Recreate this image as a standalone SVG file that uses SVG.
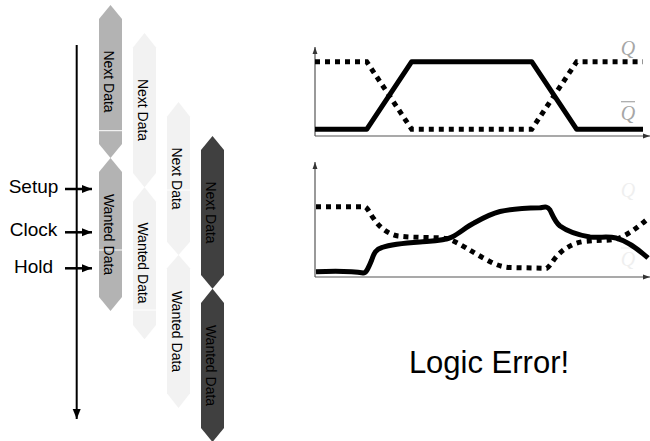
<svg xmlns="http://www.w3.org/2000/svg" width="650" height="441" viewBox="0 0 650 441">
  <defs>
    <style>
      .lbl { font-family: "Liberation Sans", Arial, sans-serif; font-size: 19px; fill: #000; text-anchor: middle; }
      .dat { font-family: "Liberation Sans", Arial, sans-serif; font-size: 14px; fill: #000; text-anchor: middle; }
      .c1 { fill: #b3b3b3; }
      .c2 { fill: #f2f2f2; }
      .c4 { fill: #404040; }
      .seam { stroke: #ffffff; stroke-width: 1; }
      .axis { stroke: #555; stroke-width: 1.2; fill: none; }
      .sig { stroke: #000; stroke-width: 5; fill: none; stroke-linejoin: round; }
      .dot { stroke: #000; stroke-width: 5; fill: none; stroke-dasharray: 5 5; }
      .q { font-family: "Liberation Serif", "Times New Roman", serif; font-style: italic; font-size: 20px; text-anchor: middle; }
      .title { font-family: "Liberation Sans", Arial, sans-serif; font-size: 31px; fill: #000; text-anchor: middle; }
    </style>
    <marker id="ah" viewBox="0 0 10 10" refX="10" refY="5" markerWidth="10" markerHeight="10" markerUnits="userSpaceOnUse" orient="auto">
      <path d="M0,1 L10,5 L0,9 Z" fill="#000"/>
    </marker>
    <marker id="ax" viewBox="0 0 10 10" refX="10" refY="5" markerWidth="7" markerHeight="7" markerUnits="userSpaceOnUse" orient="auto">
      <path d="M0,1.5 L10,5 L0,8.5 Z" fill="#333"/>
    </marker>
  </defs>

  <!-- time axis and sampling labels -->
  <g id="timeline">
    <line x1="76.7" y1="45" x2="76.7" y2="419" stroke="#000" stroke-width="2" marker-end="url(#ah)"/>
  </g>
  <g id="connectors">
    <line x1="65" y1="189" x2="92" y2="189" stroke="#000" stroke-width="2.5" marker-end="url(#ah)"/>
    <line x1="65" y1="232.3" x2="92" y2="232.3" stroke="#000" stroke-width="2.5" marker-end="url(#ah)"/>
    <line x1="65" y1="268.3" x2="92" y2="268.3" stroke="#000" stroke-width="2.5" marker-end="url(#ah)"/>
  </g>
  <g id="setup"><text class="lbl" x="33.5" y="193.3">Setup</text></g>
  <g id="clock"><text class="lbl" x="33.5" y="236">Clock</text></g>
  <g id="hold"><text class="lbl" x="33.5" y="272.7">Hold</text></g>

  <!-- column 1 -->
  <g id="col1-next">
    <polygon class="c1" points="110.5,5 122,19 122,144 110.5,158 99,144 99,19"/>
    <line class="seam" x1="99" y1="130.7" x2="122" y2="130.7"/>
    <text class="dat" transform="translate(104,81.5) rotate(90)">Next Data</text>
  </g>
  <g id="col1-wanted">
    <polygon class="c1" points="110.5,158 122,172 122,297 110.5,311 99,297 99,172"/>
    <line class="seam" x1="99" y1="250" x2="122" y2="250"/>
    <text class="dat" transform="translate(104,234.5) rotate(90)">Wanted Data</text>
  </g>

  <!-- column 2 -->
  <g id="col2-next">
    <polygon class="c2" points="144.5,33 156,47.5 156,173 144.5,187.3 133,173 133,47.5"/>
    <text class="dat" transform="translate(138,110) rotate(90)">Next Data</text>
  </g>
  <g id="col2-wanted">
    <polygon class="c2" points="144.5,187.3 156,201.7 156,325 144.5,339.3 133,325 133,201.7"/>
    <line class="seam" x1="133" y1="310" x2="156" y2="310"/>
    <text class="dat" transform="translate(138,263) rotate(90)">Wanted Data</text>
  </g>

  <!-- column 3 -->
  <g id="col3-next">
    <polygon class="c2" points="178.5,102 190,116.7 190,241.7 178.5,255 167,241.7 167,116.7"/>
    <line class="seam" x1="167" y1="190" x2="190" y2="190"/>
    <text class="dat" transform="translate(172,178.5) rotate(90)">Next Data</text>
  </g>
  <g id="col3-wanted">
    <polygon class="c2" points="178.5,255 190,268.3 190,393.3 178.5,408 167,393.3 167,268.3"/>
    <text class="dat" transform="translate(172,331.5) rotate(90)">Wanted Data</text>
  </g>

  <!-- column 4 -->
  <g id="col4-next">
    <polygon class="c4" points="212.5,136 224,150 224,275 212.5,288.7 201,275 201,150"/>
    <text class="dat" transform="translate(206,212.5) rotate(90)">Next Data</text>
  </g>
  <g id="col4-wanted">
    <polygon class="c4" points="212.5,288.7 224,303 224,428 212.5,442 201,428 201,303"/>
    <text class="dat" transform="translate(206,365.5) rotate(90)">Wanted Data</text>
  </g>

  <!-- clean transition plot -->
  <g id="plot-top">
    <line class="axis" x1="315" y1="136" x2="315" y2="47" marker-end="url(#ax)"/>
    <line class="axis" x1="315" y1="136" x2="650" y2="136" marker-end="url(#ax)"/>
    <path class="dot" d="M315,61.7 L366.7,61.7 L411.7,129.3 L531.7,129.3 L576.7,61.7 L643,61.7"/>
    <path class="sig" d="M315,129.3 L366.7,129.3 L411.7,61.7 L531.7,61.7 L576.7,129.3 L643,129.3"/>
    <text class="q" x="628" y="55" fill="#a6a6a6">Q</text>
    <line x1="621" y1="101.7" x2="635" y2="101.7" stroke="#a6a6a6" stroke-width="1.2"/>
    <text class="q" x="628" y="119.5" fill="#a6a6a6">Q</text>
  </g>

  <!-- metastable plot -->
  <g id="plot-bottom">
    <line class="axis" x1="315" y1="277" x2="315" y2="162" marker-end="url(#ax)"/>
    <line class="axis" x1="315" y1="277" x2="650" y2="277" marker-end="url(#ax)"/>
    <text class="q" x="628" y="197" fill="#efefef">Q</text>
    <line x1="621" y1="248" x2="635" y2="248" stroke="#efefef" stroke-width="1.2"/>
    <text class="q" x="628" y="266" fill="#efefef">Q</text>
    <path class="dot" d="M316,206.7 L365,206.7 C368,208 370,214 374,219 C380,228 388,234 398,236 C415,238 435,237 447,238.5 C458,242 472,252 487,260 C496,265 502,267 510,267.5 L546.7,268.3 C550,266 552,262 556,257 C562,250 572,243 584,241.5 C600,240 608,240.5 614,239.5 C625,237 636,229 648.3,218.3"/>
    <path class="sig" d="M316,271.7 C335,271 352,271 363.3,273 C366,273 368,269 371.7,260 C374,253 376,249 382,247.5 C392,244 405,243 420,242 C433,241 444,241 452,237 C460,233 466,227 474,223 C483,218 490,214 500,211.5 C512,208.5 525,208 540,207.7 C545,207 547,206 550,210 C553,216 555,222 560,226 C567,231 578,235 590,237 C600,238 608,236 616,238 C627,241 638,249 648,258"/>
  </g>

  <g id="caption"><text class="title" x="489" y="373.3">Logic Error!</text></g>
</svg>
